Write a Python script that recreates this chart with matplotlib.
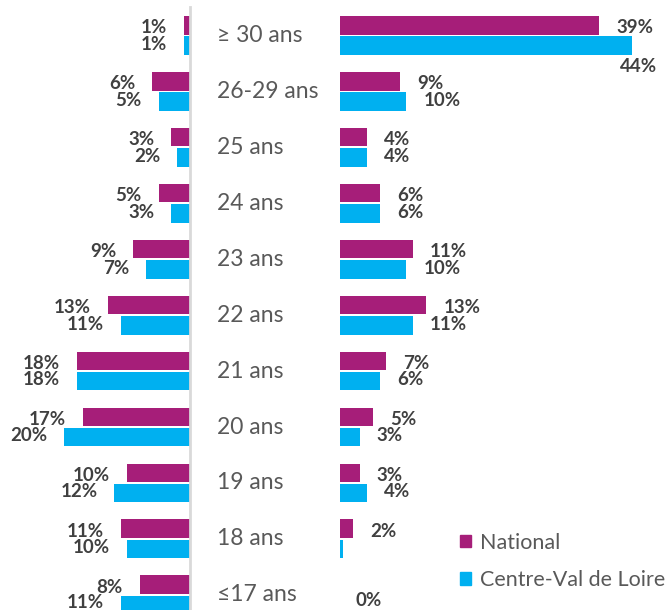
import matplotlib
matplotlib.use("Agg")
import matplotlib.pyplot as plt
import matplotlib.transforms as mtransforms
from matplotlib.patches import Patch
import numpy as np

plt.rcParams['font.family'] = ['Lato', 'DejaVu Sans']

categories = ["≥ 30 ans", "26-29 ans", "25 ans", "24 ans", "23 ans", "22 ans",
              "21 ans", "20 ans", "19 ans", "18 ans", "≤17 ans"]
series_names = ["National", "Centre-Val de Loire"]

left_national = [1, 6, 3, 5, 9, 13, 18, 17, 10, 11, 8]
left_cvl = [1, 5, 2, 3, 7, 11, 18, 20, 12, 10, 11]

right_national = [39, 9, 4, 6, 11, 13, 7, 5, 3, 2, 0]
right_cvl = [44, 10, 4, 6, 10, 11, 6, 3, 4, 0.5, 0]
# which labels are shown on the right panel
right_national_show = [True] * 10 + [False]
right_cvl_show = [True] * 9 + [False, True]

PURPLE = "#A61E79"
BLUE = "#00B0F0"
LABEL = "#404040"
CAT = "#595959"
VFS = 13.5

W, H = 670, 610
fig = plt.figure(figsize=(W / 100, H / 100), dpi=100)

def px_axes(x0, x1):
    return fig.add_axes([x0 / W, 0, (x1 - x0) / W, 1])

ax_l = px_axes(0, 190)
ax_r = px_axes(340, 670)

y = np.arange(len(categories))
bh = 0.335
off = 0.18
ylim = (10.27, -0.63)
label_max_y = ylim[0] - 0.14  # keep labels inside the figure

for ax in (ax_l, ax_r):
    ax.set_ylim(*ylim)
    ax.set_xticks([])
    ax.set_yticks([])
    for s in ax.spines.values():
        s.set_visible(False)
    ax.patch.set_alpha(0)

# Left panel (bars grow leftwards)
ax_l.set_xlim(190 / 6.3, 0)
ax_l.barh(y - off, left_national, height=bh, color=PURPLE)
ax_l.barh(y + off, left_cvl, height=bh, color=BLUE)
ax_l.spines['right'].set_visible(True)
ax_l.spines['right'].set_color("#D9D9D9")
ax_l.spines['right'].set_linewidth(2)
ax_l.spines['right'].set_bounds(ylim[0], -0.5)
for i in range(len(categories)):
    ax_l.annotate(f"{left_national[i]}%", (left_national[i], y[i] - off + 0.05),
                  xytext=(-17, 0), textcoords='offset pixels', ha='right', va='center',
                  fontsize=VFS, fontweight='bold', color=LABEL)
    ax_l.annotate(f"{left_cvl[i]}%", (left_cvl[i], min(y[i] + off - 0.02, label_max_y)),
                  xytext=(-17, 0), textcoords='offset pixels', ha='right', va='center',
                  fontsize=VFS, fontweight='bold', color=LABEL)

# Right panel
ax_r.set_xlim(0, 330 / 6.64)
ax_r.barh(y - off, right_national, height=bh, color=PURPLE)
ax_r.barh(y + off, right_cvl, height=bh, color=BLUE)
for i in range(len(categories)):
    if right_national_show[i]:
        ax_r.annotate(f"{right_national[i]:g}%", (right_national[i], y[i] - off + 0.05),
                      xytext=(17, 0), textcoords='offset pixels', ha='left', va='center',
                      fontsize=VFS, fontweight='bold', color=LABEL)
    if right_cvl_show[i]:
        v = right_cvl[i]
        if v > 40:
            ax_r.annotate(f"{v:g}%", (v, y[i] + off + 0.38),
                          xytext=(-12, 0), textcoords='offset pixels', ha='left', va='center',
                          fontsize=VFS, fontweight='bold', color=LABEL)
        elif v == 0:
            ax_r.annotate(f"{v:g}%", (v, y[i] + 0.1),
                          xytext=(15, 0), textcoords='offset pixels', ha='left', va='center',
                          fontsize=VFS, fontweight='bold', color=LABEL)
        else:
            ax_r.annotate(f"{v:g}%", (v, y[i] + off - 0.02),
                          xytext=(17, 0), textcoords='offset pixels', ha='left', va='center',
                          fontsize=VFS, fontweight='bold', color=LABEL)

# Category labels
tr = mtransforms.blended_transform_factory(fig.transFigure, ax_r.transData)
for i, c in enumerate(categories):
    fig.text(217 / W, y[i], c, transform=tr, ha='left', va='center',
             fontsize=16.5, color=CAT)

handles = [Patch(color=PURPLE), Patch(color=BLUE)]
fig.legend(handles, series_names, loc='upper left',
           bbox_to_anchor=(460 / W, 1 - 533 / H), frameon=False,
           fontsize=15.5, labelcolor=CAT, handlelength=0.5, handleheight=0.5,
           handletextpad=0.45, labelspacing=0.8, borderpad=0, borderaxespad=0)

fig.savefig("out.png", dpi=100)
